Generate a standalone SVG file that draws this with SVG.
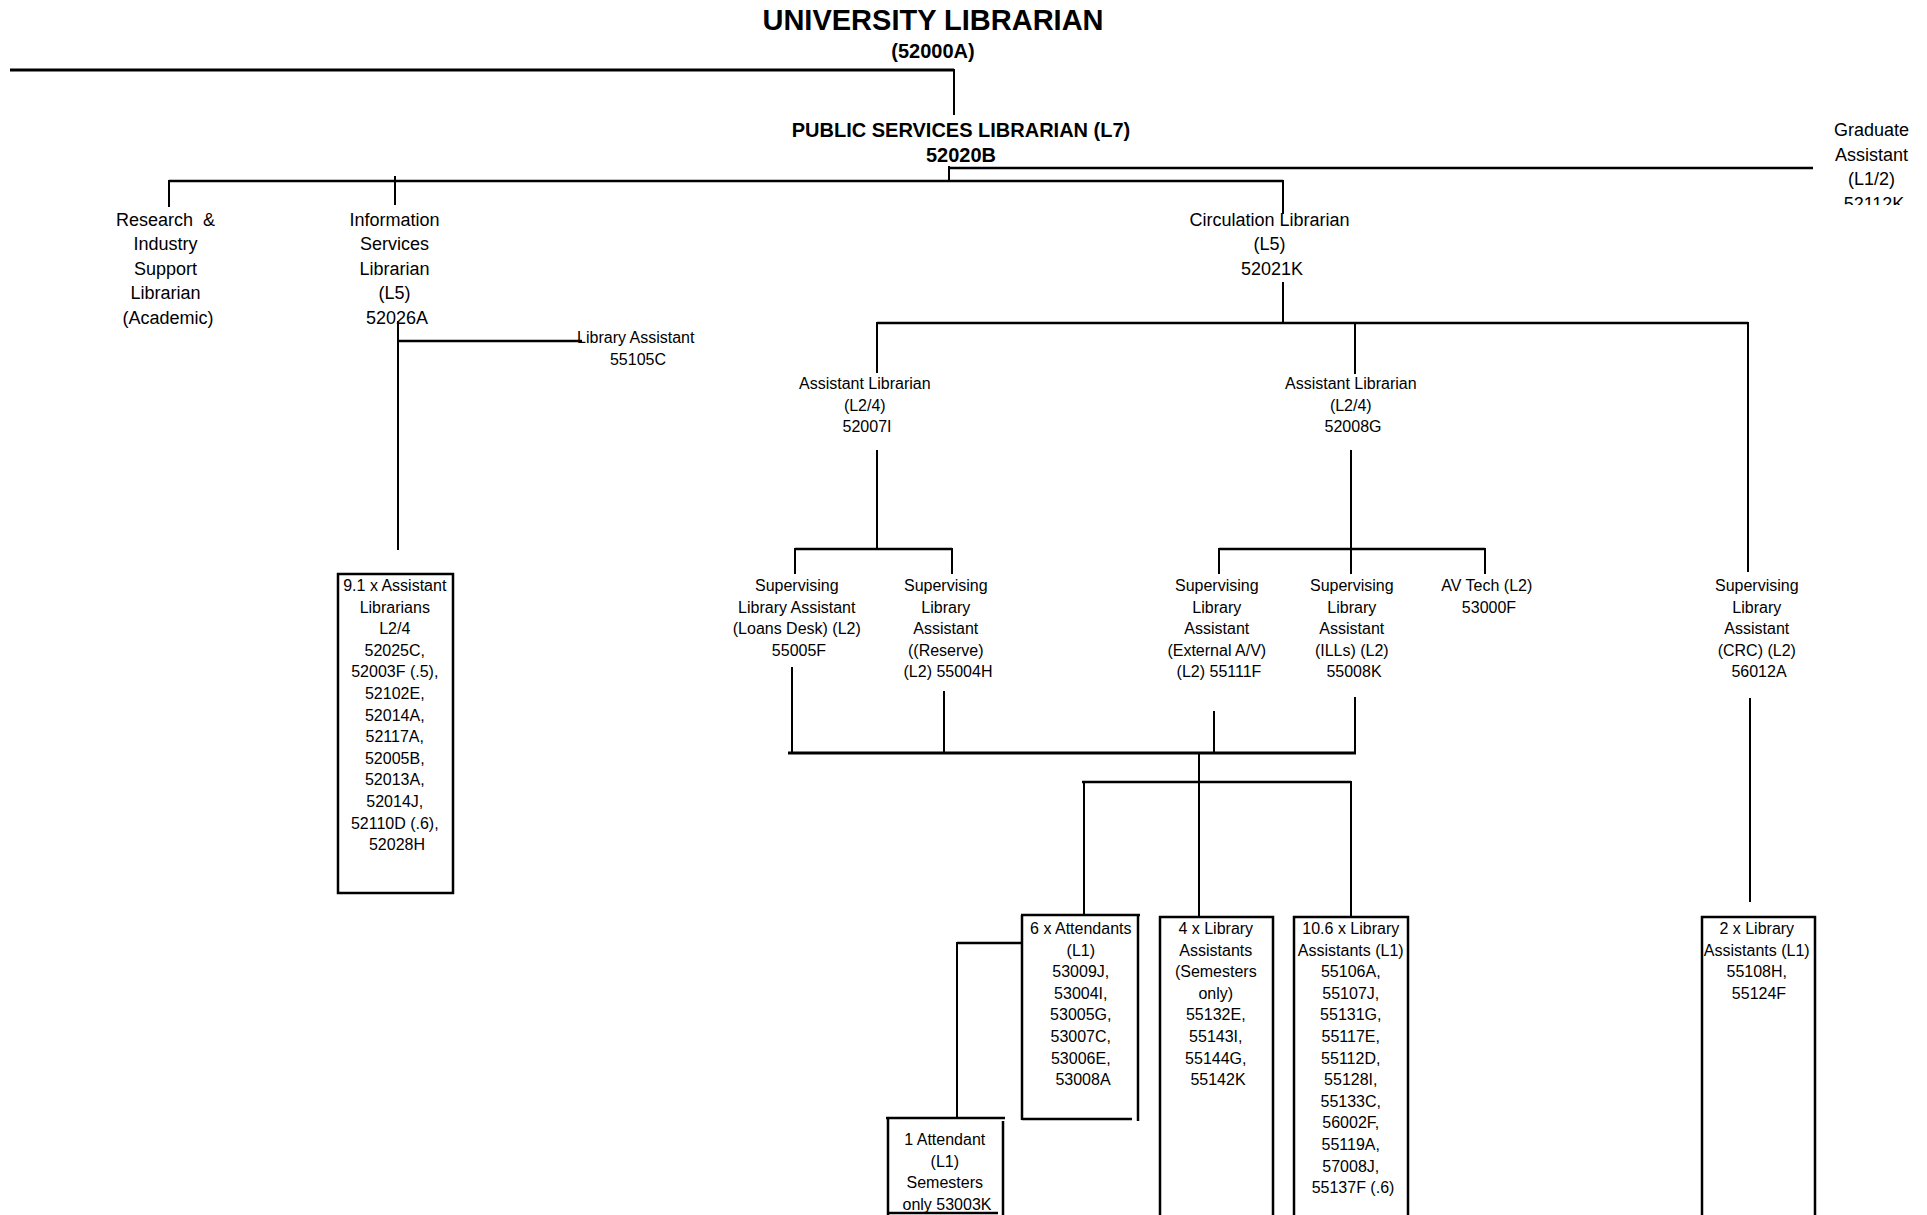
<svg xmlns="http://www.w3.org/2000/svg" width="1927" height="1215" viewBox="0 0 1927 1215">
  <style>
    text { font-family: "Liberation Sans", Arial, Helvetica, sans-serif; fill: #000; text-anchor: middle; }
    .title { font-size: 29px; font-weight: bold; }
    .head { font-size: 20px; font-weight: bold; }
    .l2 { font-size: 18px; }
    .sm { font-size: 16px; }
    .ln { stroke: #000; stroke-width: 2; fill: none; stroke-linecap: square; }
    .hv { stroke: #000; stroke-width: 2.5; fill: none; }
    .thick { stroke: #000; stroke-width: 3; fill: none; }
    .box { stroke: #000; stroke-width: 2.5; fill: none; }
  </style>
  <defs>
    <clipPath id="gradClip">
      <rect x="1790" y="90" width="137" height="115"/>
    </clipPath>
  </defs>
  <rect x="0" y="0" width="1927" height="1215" fill="#fff"/>

  <!-- reporting lines -->
  <g id="connectors">
    <!-- University Librarian -->
    <line class="thick" x1="10" y1="70" x2="954" y2="70"/>
    <line class="ln" x1="954" y1="70" x2="954" y2="114"/>
    <!-- Public Services Librarian -->
    <line class="ln" x1="949" y1="167" x2="949" y2="181"/>
    <line class="hv" x1="949" y1="168" x2="1813" y2="168"/>
    <line class="hv" x1="169" y1="181" x2="1283" y2="181"/>
    <line class="ln" x1="169" y1="181" x2="169" y2="206"/>
    <line class="ln" x1="395" y1="177" x2="395" y2="204"/>
    <line class="ln" x1="1283" y1="181" x2="1283" y2="213"/>
    <!-- Information Services Librarian -->
    <line class="ln" x1="398" y1="322" x2="398" y2="549"/>
    <line class="hv" x1="398" y1="341" x2="582" y2="341"/>
    <!-- Circulation Librarian -->
    <line class="ln" x1="1283" y1="283" x2="1283" y2="323"/>
    <line class="hv" x1="877" y1="323" x2="1748" y2="323"/>
    <line class="ln" x1="877" y1="323" x2="877" y2="372"/>
    <line class="ln" x1="1355" y1="323" x2="1355" y2="373"/>
    <line class="ln" x1="1748" y1="323" x2="1748" y2="571"/>
    <!-- Assistant Librarian 52007I -->
    <line class="ln" x1="877" y1="451" x2="877" y2="549"/>
    <line class="hv" x1="795" y1="549" x2="952" y2="549"/>
    <line class="ln" x1="795" y1="549" x2="795" y2="573"/>
    <line class="ln" x1="952" y1="549" x2="952" y2="573"/>
    <!-- Assistant Librarian 52008G -->
    <line class="ln" x1="1351" y1="451" x2="1351" y2="573"/>
    <line class="hv" x1="1219" y1="549" x2="1485" y2="549"/>
    <line class="ln" x1="1219" y1="549" x2="1219" y2="573"/>
    <line class="ln" x1="1485" y1="549" x2="1485" y2="573"/>
    <!-- supervising assistants to shared staff -->
    <line class="ln" x1="792" y1="668" x2="792" y2="753"/>
    <line class="ln" x1="944" y1="692" x2="944" y2="753"/>
    <line class="ln" x1="1214" y1="712" x2="1214" y2="751"/>
    <line class="ln" x1="1355" y1="698" x2="1355" y2="753"/>
    <line class="thick" x1="788" y1="753" x2="1356" y2="753"/>
    <line class="ln" x1="1199" y1="753" x2="1199" y2="917"/>
    <line class="hv" x1="1082" y1="782" x2="1351" y2="782"/>
    <line class="ln" x1="1084" y1="782" x2="1084" y2="915"/>
    <line class="ln" x1="1351" y1="782" x2="1351" y2="917"/>
    <!-- attendants -->
    <line class="hv" x1="957" y1="943" x2="1022" y2="943"/>
    <line class="ln" x1="957" y1="943" x2="957" y2="1116"/>
    <!-- CRC -->
    <line class="ln" x1="1750" y1="699" x2="1750" y2="901"/>
  </g>

  <g id="university-librarian">
    <text class="title" x="933" y="30">UNIVERSITY LIBRARIAN</text>
    <text class="head" x="933" y="58">(52000A)</text>
  </g>

  <g id="public-services-librarian">
    <text class="head" x="961" y="137">PUBLIC SERVICES LIBRARIAN (L7)</text>
    <text class="head" x="961" y="162">52020B</text>
  </g>

  <g id="graduate-assistant" clip-path="url(#gradClip)">
    <text class="l2">
      <tspan x="1874" y="136">Graduate</tspan>
      <tspan x="1874" y="160.5">Assistant</tspan>
      <tspan x="1874" y="185">(L1/2)</tspan>
      <tspan x="1874" y="209.5">52112K</tspan>
    </text>
  </g>

  <g id="research-industry-librarian">
    <text class="l2">
      <tspan x="168" y="225.5">Research&#160;&#160;&amp;</tspan>
      <tspan x="168" y="250">Industry</tspan>
      <tspan x="168" y="274.5">Support</tspan>
      <tspan x="168" y="299">Librarian</tspan>
      <tspan x="168" y="323.5">(Academic)</tspan>
    </text>
  </g>

  <g id="information-services-librarian">
    <text class="l2">
      <tspan x="397" y="225.5">Information</tspan>
      <tspan x="397" y="250">Services</tspan>
      <tspan x="397" y="274.5">Librarian</tspan>
      <tspan x="397" y="299">(L5)</tspan>
      <tspan x="397" y="323.5">52026A</tspan>
    </text>
  </g>

  <g id="library-assistant-55105C">
    <text class="sm">
      <tspan x="638" y="343">Library Assistant</tspan>
      <tspan x="638" y="364.5">55105C</tspan>
    </text>
  </g>

  <g id="assistant-librarians-pool">
    <rect class="box" x="338" y="574" width="115" height="319"/>
    <text class="sm">
      <tspan x="397" y="591">9.1 x Assistant</tspan>
      <tspan x="397" y="612.6">Librarians</tspan>
      <tspan x="397" y="634.2">L2/4</tspan>
      <tspan x="397" y="655.8">52025C,</tspan>
      <tspan x="397" y="677.4">52003F (.5),</tspan>
      <tspan x="397" y="699">52102E,</tspan>
      <tspan x="397" y="720.6">52014A,</tspan>
      <tspan x="397" y="742.2">52117A,</tspan>
      <tspan x="397" y="763.8">52005B,</tspan>
      <tspan x="397" y="785.4">52013A,</tspan>
      <tspan x="397" y="807">52014J,</tspan>
      <tspan x="397" y="828.6">52110D (.6),</tspan>
      <tspan x="397" y="850.2">52028H</tspan>
    </text>
  </g>

  <g id="circulation-librarian">
    <text class="l2">
      <tspan x="1272" y="225.5">Circulation Librarian</tspan>
      <tspan x="1272" y="250">(L5)</tspan>
      <tspan x="1272" y="274.5">52021K</tspan>
    </text>
  </g>

  <g id="assistant-librarian-52007I">
    <text class="sm">
      <tspan x="867" y="389">Assistant Librarian</tspan>
      <tspan x="867" y="410.6">(L2/4)</tspan>
      <tspan x="867" y="432.2">52007I</tspan>
    </text>
  </g>

  <g id="assistant-librarian-52008G">
    <text class="sm">
      <tspan x="1353" y="389">Assistant Librarian</tspan>
      <tspan x="1353" y="410.6">(L2/4)</tspan>
      <tspan x="1353" y="432.2">52008G</tspan>
    </text>
  </g>

  <g id="sla-loans-desk">
    <text class="sm">
      <tspan x="799" y="591">Supervising</tspan>
      <tspan x="799" y="612.6">Library Assistant</tspan>
      <tspan x="799" y="634.2">(Loans Desk) (L2)</tspan>
      <tspan x="799" y="655.8">55005F</tspan>
    </text>
  </g>

  <g id="sla-reserve">
    <text class="sm">
      <tspan x="948" y="591">Supervising</tspan>
      <tspan x="948" y="612.6">Library</tspan>
      <tspan x="948" y="634.2">Assistant</tspan>
      <tspan x="948" y="655.8">((Reserve)</tspan>
      <tspan x="948" y="677.4">(L2) 55004H</tspan>
    </text>
  </g>

  <g id="sla-external-av">
    <text class="sm">
      <tspan x="1219" y="591">Supervising</tspan>
      <tspan x="1219" y="612.6">Library</tspan>
      <tspan x="1219" y="634.2">Assistant</tspan>
      <tspan x="1219" y="655.8">(External A/V)</tspan>
      <tspan x="1219" y="677.4">(L2) 55111F</tspan>
    </text>
  </g>

  <g id="sla-ills">
    <text class="sm">
      <tspan x="1354" y="591">Supervising</tspan>
      <tspan x="1354" y="612.6">Library</tspan>
      <tspan x="1354" y="634.2">Assistant</tspan>
      <tspan x="1354" y="655.8">(ILLs) (L2)</tspan>
      <tspan x="1354" y="677.4">55008K</tspan>
    </text>
  </g>

  <g id="av-tech">
    <text class="sm">
      <tspan x="1489" y="591">AV Tech (L2)</tspan>
      <tspan x="1489" y="612.6">53000F</tspan>
    </text>
  </g>

  <g id="sla-crc">
    <text class="sm">
      <tspan x="1759" y="591">Supervising</tspan>
      <tspan x="1759" y="612.6">Library</tspan>
      <tspan x="1759" y="634.2">Assistant</tspan>
      <tspan x="1759" y="655.8">(CRC) (L2)</tspan>
      <tspan x="1759" y="677.4">56012A</tspan>
    </text>
  </g>

  <g id="attendants-6">
    <path class="box" d="M1021 915 H1140 M1022 915 V1120 M1138 915 V1121 M1022 1119 H1132"/>
    <text class="sm">
      <tspan x="1083" y="934">6 x Attendants</tspan>
      <tspan x="1083" y="955.6">(L1)</tspan>
      <tspan x="1083" y="977.2">53009J,</tspan>
      <tspan x="1083" y="998.8">53004I,</tspan>
      <tspan x="1083" y="1020.4">53005G,</tspan>
      <tspan x="1083" y="1042">53007C,</tspan>
      <tspan x="1083" y="1063.6">53006E,</tspan>
      <tspan x="1083" y="1085.2">53008A</tspan>
    </text>
  </g>

  <g id="attendant-1">
    <path class="box" d="M886 1118 H1005 M888 1118 V1215 M1003 1121 V1215 M888 1213 H998"/>
    <text class="sm">
      <tspan x="947" y="1145">1 Attendant</tspan>
      <tspan x="947" y="1166.6">(L1)</tspan>
      <tspan x="947" y="1188.2">Semesters</tspan>
      <tspan x="947" y="1209.8">only 53003K</tspan>
    </text>
  </g>

  <g id="library-assistants-semesters">
    <path class="box" d="M1160 1220 V917 H1273 V1220"/>
    <text class="sm">
      <tspan x="1218" y="934">4 x Library</tspan>
      <tspan x="1218" y="955.6">Assistants</tspan>
      <tspan x="1218" y="977.2">(Semesters</tspan>
      <tspan x="1218" y="998.8">only)</tspan>
      <tspan x="1218" y="1020.4">55132E,</tspan>
      <tspan x="1218" y="1042">55143I,</tspan>
      <tspan x="1218" y="1063.6">55144G,</tspan>
      <tspan x="1218" y="1085.2">55142K</tspan>
    </text>
  </g>

  <g id="library-assistants-l1">
    <path class="box" d="M1294 1220 V917 H1408 V1220"/>
    <text class="sm">
      <tspan x="1353" y="934">10.6 x Library</tspan>
      <tspan x="1353" y="955.6">Assistants (L1)</tspan>
      <tspan x="1353" y="977.2">55106A,</tspan>
      <tspan x="1353" y="998.8">55107J,</tspan>
      <tspan x="1353" y="1020.4">55131G,</tspan>
      <tspan x="1353" y="1042">55117E,</tspan>
      <tspan x="1353" y="1063.6">55112D,</tspan>
      <tspan x="1353" y="1085.2">55128I,</tspan>
      <tspan x="1353" y="1106.8">55133C,</tspan>
      <tspan x="1353" y="1128.4">56002F,</tspan>
      <tspan x="1353" y="1150">55119A,</tspan>
      <tspan x="1353" y="1171.6">57008J,</tspan>
      <tspan x="1353" y="1193.2">55137F (.6)</tspan>
    </text>
  </g>

  <g id="library-assistants-crc">
    <path class="box" d="M1702 1220 V917 H1815 V1220"/>
    <text class="sm">
      <tspan x="1759" y="934">2 x Library</tspan>
      <tspan x="1759" y="955.6">Assistants (L1)</tspan>
      <tspan x="1759" y="977.2">55108H,</tspan>
      <tspan x="1759" y="998.8">55124F</tspan>
    </text>
  </g>
</svg>
